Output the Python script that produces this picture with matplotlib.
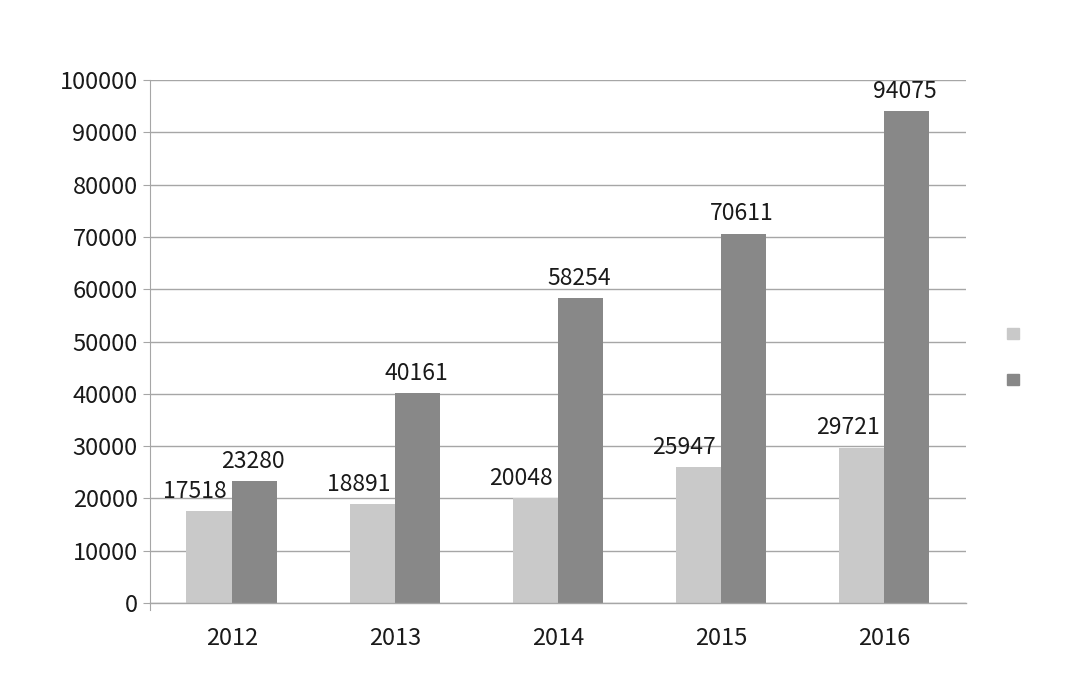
import numpy as np
import matplotlib.pyplot as plt
from matplotlib.patches import Patch

plt.rcParams['font.family'] = ['Noto Sans CJK SC', 'DejaVu Sans']

years = ['2012', '2013', '2014', '2015', '2016']
serie_a = [17518, 18891, 20048, 25947, 29721]
serie_b = [23280, 40161, 58254, 70611, 94075]

col_a = '#c9c9c9'
col_b = '#888888'
col_grid = '#a6a6a6'

fig = plt.figure(figsize=(10.8, 6.97), dpi=100)
ax = fig.add_axes([0.139, 0.135, 0.755, 0.750])

x = np.arange(len(years))
w = 0.277
ax.bar(x - w / 2, serie_a, w, color=col_a, zorder=3)
ax.bar(x + w / 2, serie_b, w, color=col_b, zorder=3)

# etiquetas de datos
for i in range(len(years)):
    ax.annotate(str(serie_a[i]), (x[i] - w / 2, serie_a[i]), xytext=(-10, 6),
                textcoords='offset points', ha='center', va='bottom', fontsize=16.5, color='#1a1a1a')
    ax.annotate(str(serie_b[i]), (x[i] + w / 2, serie_b[i]), xytext=(-1, 6),
                textcoords='offset points', ha='center', va='bottom', fontsize=16.5, color='#1a1a1a')

ax.set_xlim(-0.5, len(years) - 0.5)
ax.set_ylim(0, 100000)
ax.set_yticks(np.arange(0, 100001, 10000))
ax.set_xticks(x)
ax.set_xticklabels(years)

ax.grid(axis='y', color=col_grid, linewidth=1, zorder=0)
ax.axhline(0, color=col_grid, linewidth=1, zorder=4, clip_on=False)
for s in ['top', 'right', 'bottom']:
    ax.spines[s].set_visible(False)
ax.spines['left'].set_color(col_grid)
ax.spines['left'].set_bounds(-1400, 100000)
ax.tick_params(axis='y', length=5, color=col_grid, labelsize=17, labelcolor='#1a1a1a', pad=4)
ax.tick_params(axis='x', length=0, labelsize=17, labelcolor='#1a1a1a', pad=17)

handles = [Patch(color=col_a), Patch(color=col_b)]
fig.legend(handles, [' ', ' '], loc='center', bbox_to_anchor=(0.941, 0.487), frameon=False,
           handlelength=0.85, handleheight=0.85, labelspacing=2.3, handletextpad=0.2)

fig.savefig('out.png', dpi=100)
